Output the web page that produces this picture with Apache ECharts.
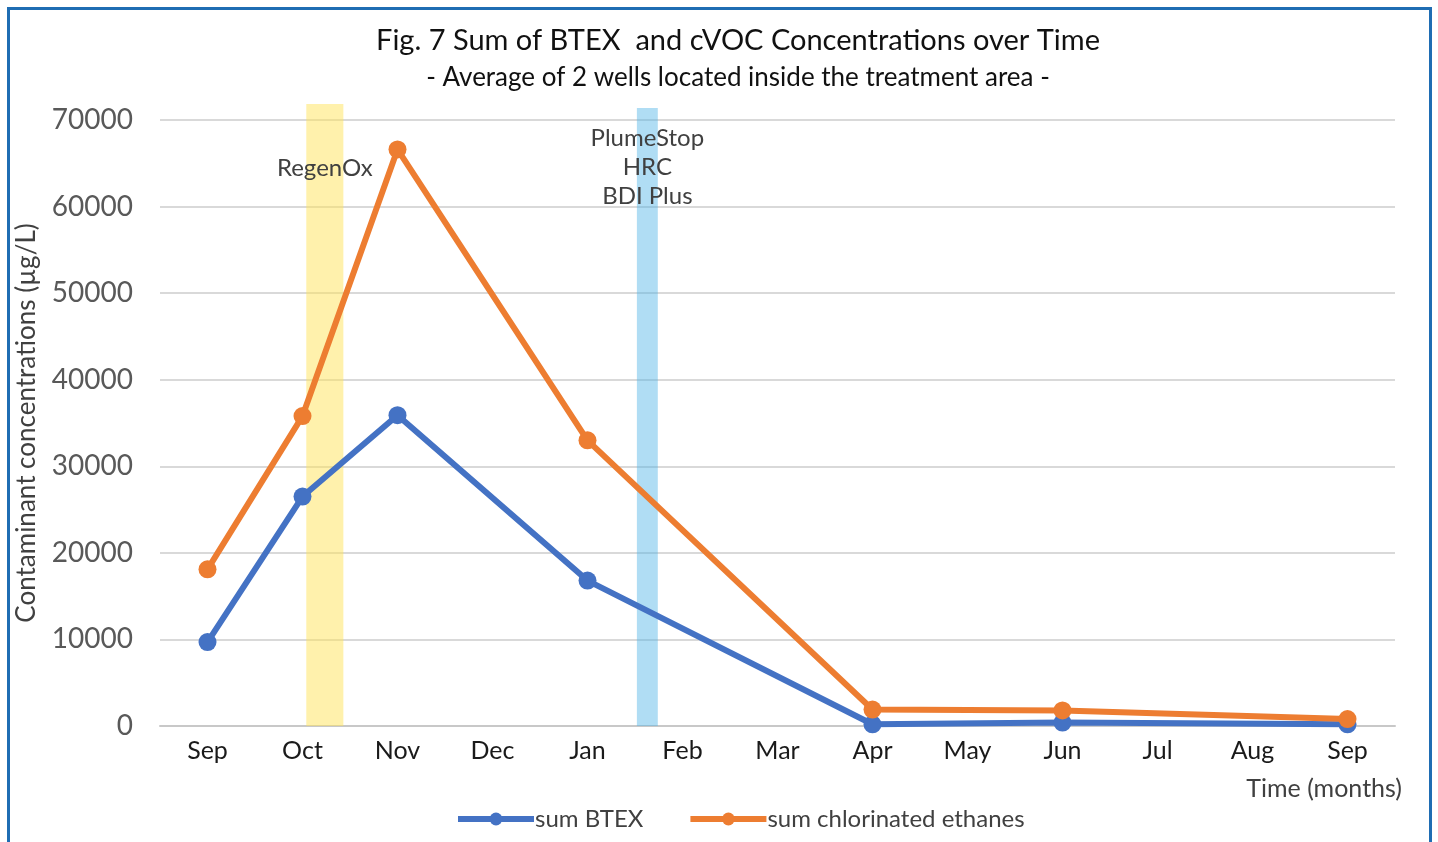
<!DOCTYPE html>
<html>
<head>
<meta charset="utf-8">
<title>Fig. 7 Sum of BTEX and cVOC</title>
<script src="https://cdn.jsdelivr.net/npm/echarts@6/dist/echarts.min.js"></script>
<style>
  html, body { margin: 0; padding: 0; background: #fff; }
  #wrap { position: relative; width: 1438px; height: 842px; }
  #chart { width: 1438px; height: 842px; }
  #frame {
    position: absolute; left: 7px; top: 7px; width: 1419px; height: 840px;
    border: 3px solid #1f6db3; border-bottom: none; pointer-events: none;
  }
</style>
</head>
<body>
<div id="wrap">
  <div id="chart"></div>
  <div id="frame"></div>
</div>
<script>
// months on the x axis
var months = ["Sep", "Oct", "Nov", "Dec", "Jan", "Feb", "Mar", "Apr", "May", "Jun", "Jul", "Aug", "Sep"]
// sampled values (null = no sampling that month)
var sumBTEX = [9700, 26500, 35900, null, 16800, null, null, 200, null, 400, null, null, 200]
var sumEthanes = [18100, 35800, 66600, null, 33000, null, null, 1900, null, 1800, null, null, 800]
// treatment injections: [start, end] in month index units
var regenOxSpan = [1.04, 1.43]
var plumeStopSpan = [4.52, 4.74]

var font = "Lato, 'Open Sans', sans-serif"

var chart = echarts.init(document.getElementById("chart"))

var option = {
  backgroundColor: "#ffffff",
  title: [
    {
      text: "Fig. 7 Sum of BTEX  and cVOC Concentrations over Time",
      left: 733, top: 21, textAlign: "center",
      textStyle: { fontFamily: font, fontSize: 29, fontWeight: "normal", color: "#111" }
    },
    {
      text: "- Average of 2 wells located inside the treatment area -",
      left: 733, top: 60, textAlign: "center",
      textStyle: { fontFamily: font, fontSize: 26, fontWeight: "normal", color: "#111" }
    }
  ],
  legend: {
    bottom: 6,
    left: 450,
    data: ["sum BTEX", "sum chlorinated ethanes"],
    itemWidth: 76,
    itemHeight: 16,
    itemGap: 44,
    lineStyle: { width: 6 },
    textStyle: { fontFamily: font, fontSize: 24, color: "#404040", padding: [0, 0, 0, -4] }
  },
  grid: [
    { left: 160, right: 43, top: 120, bottom: 116 },
    { left: 160, right: 43, top: 104, bottom: 116 }
  ],
  xAxis: [
    {
      type: "category",
      data: months,
      gridIndex: 0,
      boundaryGap: true,
      axisLine: { lineStyle: { color: "#c8c8c8", width: 2 } },
      axisTick: { show: false },
      axisLabel: { fontFamily: font, fontSize: 25, color: "#1a1a1a", margin: 12 },
      name: "Time (months)",
      nameLocation: "end",
      nameGap: 7,
      nameTextStyle: {
        fontFamily: font, fontSize: 25, color: "#404040",
        align: "right", verticalAlign: "top", padding: [50, 0, 0, 0]
      }
    },
    {
      type: "value", gridIndex: 1, min: -0.5, max: 12.5, show: false
    }
  ],
  yAxis: [
    {
      type: "value",
      gridIndex: 0,
      min: 0, max: 70000, interval: 10000,
      axisLine: { show: false },
      axisTick: { show: false },
      splitLine: { lineStyle: { color: "#d9d9d9", width: 2 } },
      axisLabel: {
        fontFamily: font, fontSize: 28, color: "#595959", margin: 27,
        formatter: function (v) { return String(v) }
      },
      name: "Contaminant concentrations (\u00b5g/L)",
      nameLocation: "middle",
      nameGap: 120,
      nameTextStyle: { fontFamily: font, fontSize: 26, color: "#404040" }
    },
    { type: "value", gridIndex: 1, min: 0, max: 1, show: false }
  ],
  series: [
    {
      name: "sum BTEX",
      type: "line",
      xAxisIndex: 0, yAxisIndex: 0,
      data: sumBTEX,
      connectNulls: true,
      symbol: "circle",
      symbolSize: 18,
      color: "#4472c4",
      lineStyle: { width: 6 },
      z: 2
    },
    {
      name: "sum chlorinated ethanes",
      type: "line",
      xAxisIndex: 0, yAxisIndex: 0,
      data: sumEthanes,
      connectNulls: true,
      symbol: "circle",
      symbolSize: 18,
      color: "#ed7d31",
      lineStyle: { width: 6 },
      z: 3
    },
    {
      name: "treatments",
      type: "line",
      xAxisIndex: 1, yAxisIndex: 1,
      data: [],
      silent: true,
      z: 10,
      markArea: {
        silent: true,
        data: [
          [
            {
              xAxis: regenOxSpan[0], yAxis: 0,
              itemStyle: { color: "rgba(255,228,90,0.5)" },
              label: {
                show: true, formatter: "RegenOx", position: "insideTop", distance: 50,
                fontFamily: font, fontSize: 24, lineHeight: 29, color: "#404040"
              }
            },
            { xAxis: regenOxSpan[1], yAxis: 1 }
          ],
          [
            {
              xAxis: plumeStopSpan[0], yAxis: 0,
              itemStyle: { color: "rgba(80,180,230,0.45)" },
              label: {
                show: true, formatter: "PlumeStop\nHRC\nBDI Plus", position: "insideTop", distance: 16,
                fontFamily: font, fontSize: 24, lineHeight: 29, color: "#404040"
              }
            },
            { xAxis: plumeStopSpan[1], yAxis: 0.9936 }
          ]
        ]
      }
    }
  ]
}

chart.setOption(option)
</script>
</body>
</html>
